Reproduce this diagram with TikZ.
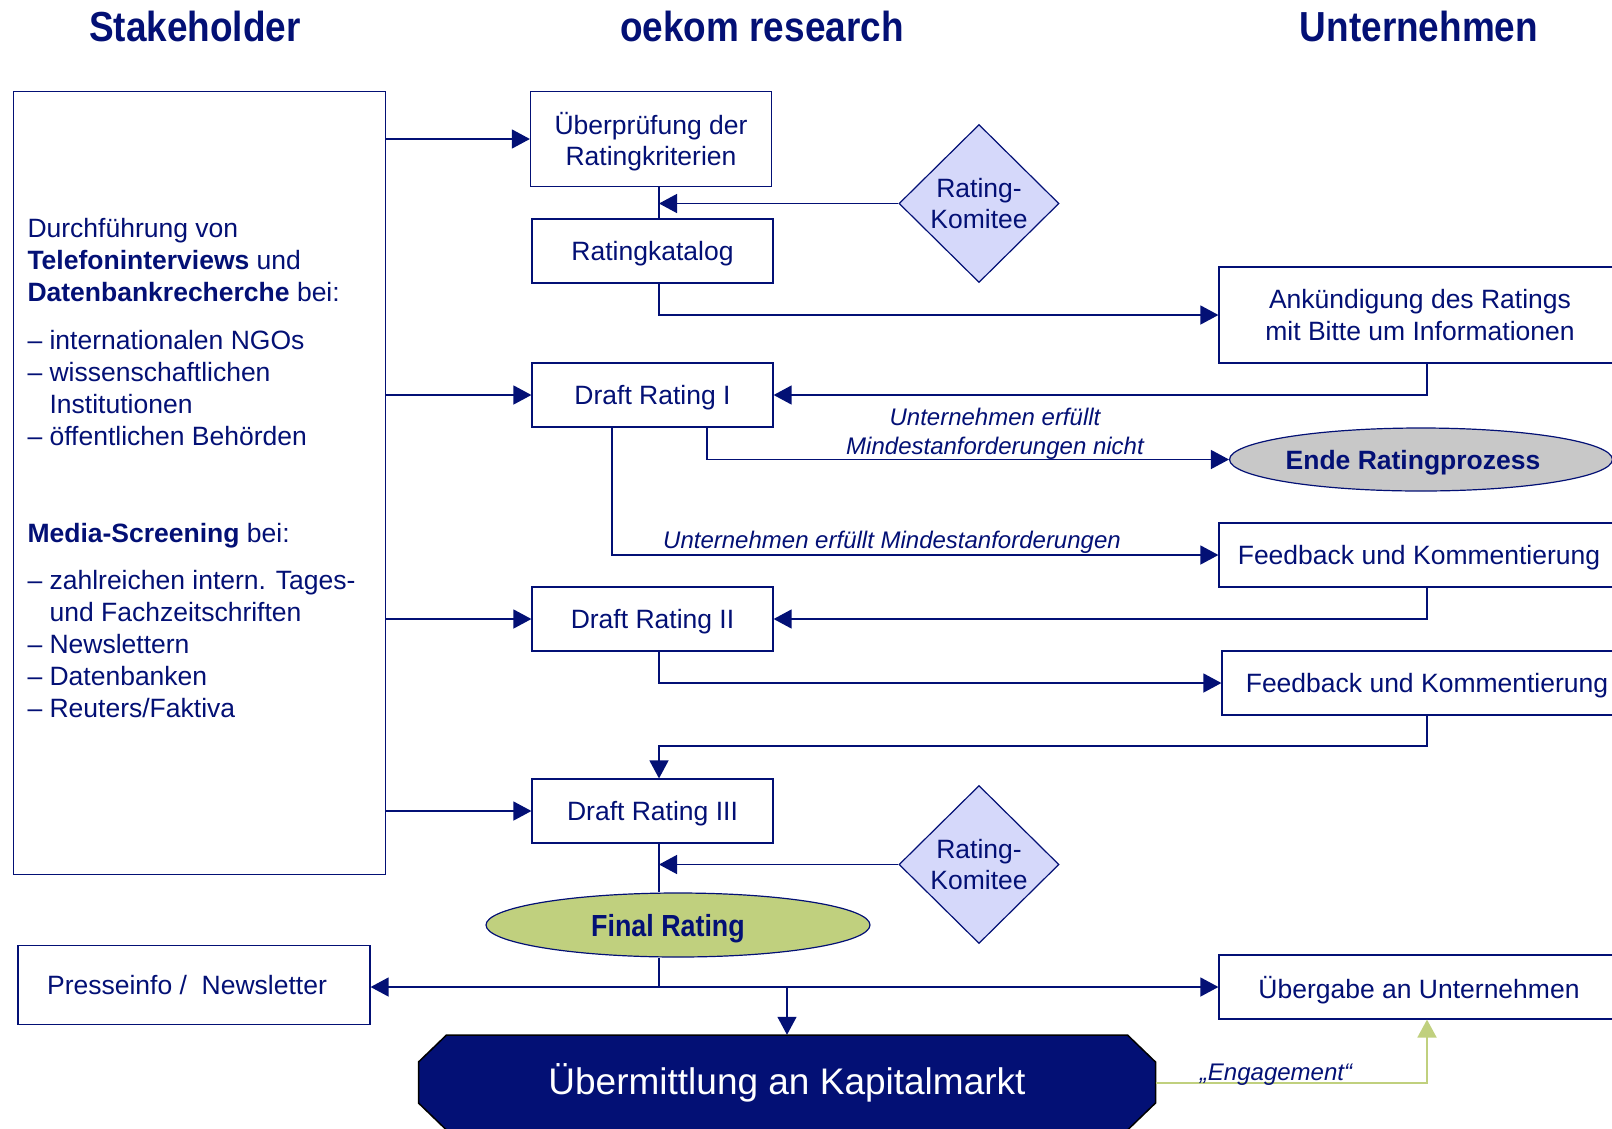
\documentclass[tikz,border=0pt]{standalone}
\usepackage{fontspec}
\setmainfont{Liberation Sans}
\newfontfamily\narrowfont[FakeStretch=0.88]{Liberation Sans}
\usetikzlibrary{arrows.meta,shapes.geometric}
\definecolor{oekomblue}{RGB}{3,16,117}
\definecolor{komiteefill}{RGB}{213,216,250}
\definecolor{finalfill}{RGB}{192,208,126}
\definecolor{endefill}{RGB}{200,200,200}
\tikzstyle{head}=[text=oekomblue,font=\narrowfont\bfseries\fontsize{42}{48}\selectfont]
\tikzstyle{box}=[draw=oekomblue,line width=1.2pt,fill=white,text=oekomblue,align=center,inner sep=0pt,text depth=0pt,minimum height=64pt,font=\fontsize{26.5}{31.5}\selectfont]
\tikzstyle{komitee}=[diamond,draw=oekomblue,line width=1.2pt,fill=komiteefill,text=oekomblue,align=center,inner sep=0pt,minimum width=160pt,minimum height=158pt,font=\fontsize{26.5}{31.5}\selectfont]
\tikzstyle{oval}=[ellipse,draw=oekomblue,line width=1.2pt,text=oekomblue,inner sep=0pt,text depth=0pt]
\tikzstyle{lab}=[text=oekomblue,align=center,inner sep=0pt,font=\itshape\fontsize{24}{29}\selectfont]
\tikzstyle{line}=[draw=oekomblue,line width=1.4pt]
\tikzstyle{arr}=[line,-{Triangle[length=18pt,width=19pt]}]
\tikzstyle{greenarr}=[draw=finalfill,line width=2pt,-{Triangle[length=18pt,width=19pt]}]

\begin{document}
\begin{tikzpicture}[x=1pt,y=-1pt]
\clip (0,0) rectangle (1612,1128);
\draw (195,26)node (hstake)[head]{Stakeholder};
\draw (762,26)node (hoekom)[head]{oekom research};
\draw (1419,26)node (hunt)[head]{Unternehmen};
\coordinate (spine) at (659,0);
\coordinate (rspine) at (1427,0);
\coordinate (nogo) at (707,0);
\coordinate (go) at (612,0);
\coordinate (loop3) at (1427,746);
\coordinate (hub) at (659,987);

\draw (199.5,483)node (stake)[box,minimum width=372pt,minimum height=783.5pt]{};
\draw (27.3,218)node (info)[anchor=north west,text=oekomblue,align=left,inner sep=0pt,font=\fontsize{26.5}{31.9}\selectfont]{Durchführung von\\
\textbf{Telefoninterviews} und\\
\textbf{Datenbankrecherche} bei:\\[16.6pt]
– internationalen NGOs\\
– wissenschaftlichen\\
\phantom{– }Institutionen\\
– öffentlichen Behörden\\[65pt]
\textbf{Media-Screening} bei:\\[15.6pt]
– zahlreichen intern. Tages-\\
\phantom{– }und Fachzeitschriften\\
– Newslettern\\
– Datenbanken\\
– Reuters/Faktiva};

\draw (651,139)node (pruef)[box,minimum width=241pt,minimum height=95.5pt]{Überprüfung der\\Ratingkriterien};
\draw (652.5,251)node (katalog)[box,minimum width=241pt]{Ratingkatalog};
\draw (979,203.5)node (komitee1)[komitee]{Rating-\\Komitee};
\draw (1420,315)node (ank)[box,minimum width=402pt,minimum height=96pt]{Ankündigung des Ratings\\mit Bitte um Informationen};
\draw (652.5,395)node (draft1)[box,minimum width=241pt]{Draft Rating I};
\draw (1421,459.5)node (ende)[oval,fill=endefill,minimum width=378pt,minimum height=63pt,font=\bfseries\fontsize{26.5}{31.5}\selectfont]{Ende Ratingprozess\kern16pt};
\draw (1419,555)node (fb1)[box,minimum width=400pt]{Feedback und Kommentierung};
\draw (652.5,619)node (draft2)[box,minimum width=241pt]{Draft Rating II};
\draw (1427,683)node (fb2)[box,minimum width=410pt]{Feedback und Kommentierung};
\draw (652.5,811)node (draft3)[box,minimum width=241pt]{Draft Rating III};
\draw (979,864.5)node (komitee2)[komitee]{Rating-\\Komitee};
\draw (678,925)node (final)[oval,fill=finalfill,minimum width=384pt,minimum height=64pt,font=\narrowfont\bfseries\fontsize{30.5}{34}\selectfont]{Final Rating\kern20pt};
\draw (194,985)node (presse)[box,minimum width=352pt,minimum height=79pt]{Presseinfo /\ \ Newsletter\kern14pt};
\draw (1419,987)node (uebergabe)[box,minimum width=400pt]{Übergabe an Unternehmen};
\draw[fill=oekomblue,draw=black,line width=1.5pt] (446.5,1035)--(1127.5,1035)--(1155.5,1062)--(1155.5,1103)--(1127.5,1130)--(446.5,1130)--(418.5,1103)--(418.5,1062)--cycle;
\draw (787,1082.5)node (markt)[text=white,inner sep=0pt,minimum width=737pt,minimum height=95pt,font=\fontsize{37}{42}\selectfont]{Übermittlung an Kapitalmarkt};

\draw[arr] (stake.east |- pruef.west)--(pruef.west);
\draw[arr] (stake.east |- draft1.west)--(draft1.west);
\draw[arr] (stake.east |- draft2.west)--(draft2.west);
\draw[arr] (stake.east |- draft3.west)--(draft3.west);
\draw[line] (pruef.south -| spine)--(katalog.north -| spine);
\draw[arr] (komitee1.west)--(komitee1.west -| spine);
\draw[arr] (katalog.south -| spine)|-(ank.west);
\draw[arr] (ank.south -| rspine)|-(draft1.east);
\draw[arr] (draft1.south -| nogo)|-(ende.west);
\draw[arr] (draft1.south -| go)|-(fb1.west);
\draw (995,433.5)node (nichtlab)[lab]{Unternehmen erfüllt\\Mindestanforderungen nicht};
\draw (892,542)node (erfuelltlab)[lab]{Unternehmen erfüllt Mindestanforderungen};
\draw[arr] (fb1.south -| rspine)|-(draft2.east);
\draw[arr] (draft2.south -| spine)|-(fb2.west);
\draw[arr] (fb2.south -| loop3)--(loop3)-|(draft3.north -| spine);
\draw[line] (draft3.south -| spine)--(final.north -| spine);
\draw[arr] (komitee2.west)--(komitee2.west -| spine);
\draw[line] (final.south -| spine)--(hub);
\draw[arr] (hub)--(hub -| presse.east);
\draw[arr] (hub)--(hub -| uebergabe.west);
\draw[arr] (hub -| markt.north)--(markt.north);
\draw[greenarr] (markt.east)-|(uebergabe.south -| rspine);
\draw (1276,1080)node (englab)[lab,anchor=base]{„Engagement“};
\end{tikzpicture}
\end{document}
